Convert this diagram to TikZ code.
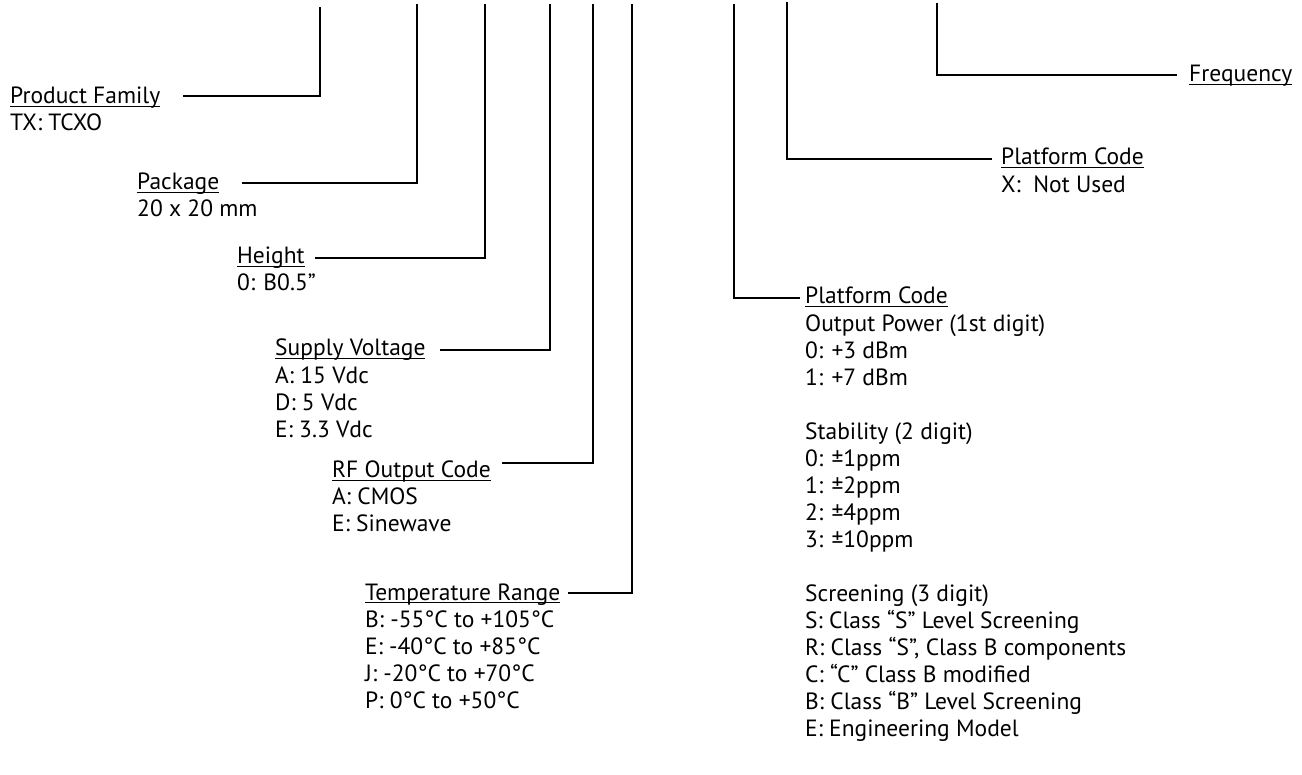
\documentclass[tikz,border=0pt]{standalone}
\usepackage{fontspec}
\setmainfont{PT Sans}
\newcommand{\fsz}{\fontsize{23.5}{27}\selectfont}
\newcommand{\ulx}[1]{\setbox0\hbox{#1}\rlap{\rule[-3.4pt]{\wd0}{1.3pt}}\box0}
\tikzset{
  head/.style={anchor=base west, inner sep=0pt, font=\fsz, text height=16pt, text depth=0pt},
  bodytxt/.style={anchor=north west, inner sep=0pt, align=left, font=\fsz},
  conn/.style={line width=2.2pt, line cap=butt, line join=miter}
}
% strut height = 0.7*27 = 18.9; body first baseline = heading baseline + gap
\begin{document}
\begin{tikzpicture}[x=1pt,y=-1pt]
\useasboundingbox (0,0) rectangle (1302,775);
% left side
\node[head] (pfh) at (10,104) {\ulx{Product Family}};
\node[bodytxt] (pfb) at ([yshift=-7.1pt]pfh.base west) {\strut TX: TCXO};
\node[head] (pkh) at (137,190) {\ulx{Package}};
\node[bodytxt] (pkb) at ([yshift=-7.1pt]pkh.base west) {\strut 20 x 20 mm};
\node[head] (hth) at (237,264) {\ulx{Height}};
\node[bodytxt] (htb) at ([yshift=-7.1pt]hth.base west) {\strut 0: B0.5”};
\node[head] (svh) at (275,356) {\ulx{Supply Voltage}};
\node[bodytxt] (svb) at ([yshift=-8.1pt]svh.base west) {\strut A: 15 Vdc\\D: 5 Vdc\\E: 3.3 Vdc};
\node[head] (rfh) at (332,478) {\ulx{RF Output Code}};
\node[bodytxt] (rfb) at ([yshift=-7.1pt]rfh.base west) {\strut A: CMOS\\E: Sinewave};
\node[head] (trh) at (365,600) {\ulx{Temperature Range}};
\node[bodytxt] (trb) at ([yshift=-8.1pt]trh.base west) {\strut B: -55°C to +105°C\\E: -40°C to +85°C\\J: -20°C to +70°C\\P: 0°C to +50°C};
% right side
\node[head] (frh) at (1189,82) {\ulx{Frequency}};
\node[head] (pch) at (1001,165) {\ulx{Platform Code}};
\node[bodytxt] (pcb) at ([yshift=-8.1pt]pch.base west) {\strut X:~~Not Used};
\node[head] (ph2) at (805,304) {\ulx{Platform Code}};
\node[bodytxt] (pb2) at ([yshift=-8.1pt]ph2.base west) {\strut Output Power (1st digit)\\0: +3 dBm\\1: +7 dBm\\[27pt]Stability (2 digit)\\0: ±1ppm\\1: ±2ppm\\2: ±4ppm\\3: ±10ppm\\[27pt]Screening (3 digit)\\S: Class “S” Level Screening\\R: Class “S”, Class B components\\C: “C” Class B modified\\B: Class “B” Level Screening\\E: Engineering Model};
% top ends of the leads
\coordinate (t1) at (320,7);
\coordinate (t2) at (417,4);
\coordinate (t3) at (485,4);
\coordinate (t4) at (550,4);
\coordinate (t5) at (593,4);
\coordinate (t6) at (632,4);
\coordinate (t7) at (734,4);
\coordinate (t8) at (787,2);
\coordinate (t9) at (937,3);
% free ends of the leads beside the labels
\coordinate (s1) at (183,96);
\coordinate (s2) at (242,183);
\coordinate (s3) at (315,258);
\coordinate (s4) at (440,350);
\coordinate (s5) at (502,463);
\coordinate (s6) at (568,593);
\coordinate (e7) at (800,298);
\coordinate (e8) at (992,159);
\coordinate (e9) at (1177,75);
% connectors
\draw[conn] (s1) -| (t1);
\draw[conn] (s2) -| (t2);
\draw[conn] (s3) -| (t3);
\draw[conn] (s4) -| (t4);
\draw[conn] (s5) -| (t5);
\draw[conn] (s6) -| (t6);
\draw[conn] (t7) |- (e7);
\draw[conn] (t8) |- (e8);
\draw[conn] (t9) |- (e9);
\end{tikzpicture}
\end{document}
